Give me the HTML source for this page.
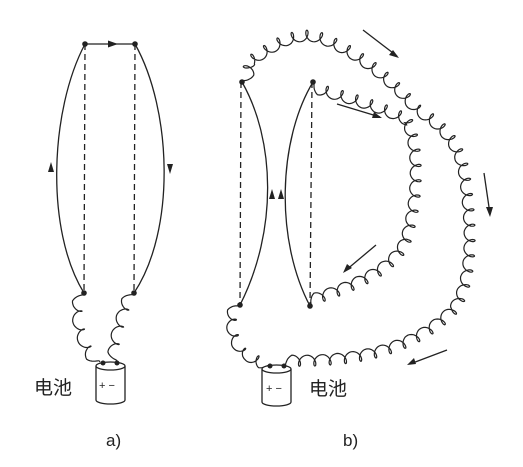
<!DOCTYPE html>
<html><head><meta charset="utf-8"><style>
html,body{margin:0;padding:0;background:#fff;width:523px;height:467px;overflow:hidden}
text{font-family:"Liberation Sans","Noto Sans CJK SC",sans-serif;fill:#222}
</style></head><body>
<svg id="s" width="523" height="467" viewBox="0 0 523 467" xmlns="http://www.w3.org/2000/svg">
<g fill="none" stroke="#222" stroke-width="1.3">
<path d="M85,44 C50,110 45,230 84,293"/>
<path d="M135,44 C172,110 176,230 134,293"/>
<line x1="85" y1="44" x2="135" y2="44"/>
<line x1="85" y1="44" x2="84" y2="293" stroke-dasharray="6,4"/>
<line x1="135" y1="44" x2="134" y2="293" stroke-dasharray="6,4"/>
<path d="M242,82 C275,140 278,230 240,305"/>
<path d="M313,82 C278,140 275,240 310,306"/>
<line x1="241" y1="82" x2="240" y2="305" stroke-dasharray="6,4"/>
<line x1="312" y1="82" x2="310" y2="306" stroke-dasharray="6,4"/>
<line x1="363" y1="30" x2="397" y2="56"/>
<line x1="337" y1="104" x2="380" y2="117"/>
<line x1="376" y1="245" x2="345" y2="271"/>
<line x1="484" y1="173" x2="490" y2="214"/>
<line x1="447" y1="350" x2="410" y2="364"/>
</g>
<g fill="#222">
<polygon points="118,44 108,40.5 108,47.5"/>
<polygon points="51,162 48,172 54,172"/>
<polygon points="170,174 167,164 173,164"/>
<polygon points="272,189 269,199 275,199"/>
<polygon points="281,189 278,199 284,199"/>
<polygon points="399,58 389,55 393,50"/>
<polygon points="382,118 372,118 374,112"/>
<polygon points="343,273 347,264 352,268"/>
<polygon points="490,217 486,207 493,207"/>
<polygon points="407,365 414,358 416,364"/>
<circle cx="85" cy="44" r="2.8"/><circle cx="135" cy="44" r="2.8"/>
<circle cx="84" cy="293" r="2.8"/><circle cx="134" cy="293" r="2.8"/>
<circle cx="242" cy="82" r="2.8"/><circle cx="313" cy="82" r="2.8"/>
<circle cx="240" cy="305" r="2.8"/><circle cx="310" cy="306" r="2.8"/>
</g>
<g id="coils" fill="none" stroke="#222" stroke-width="1.2"></g>
<g fill="#fff" stroke="#222" stroke-width="1.3">
<path d="M96,366 L96,400 A14.5,4 0 0 0 125,400 L125,366"/>
<ellipse cx="110.5" cy="366" rx="14.5" ry="4"/>
<path d="M262,369 L262,402 A14.5,4 0 0 0 291,402 L291,369"/>
<ellipse cx="276.5" cy="369" rx="14.5" ry="4"/>
</g>
<g fill="#222"><circle cx="103" cy="363" r="2.5"/><circle cx="117" cy="363" r="2.5"/>
<circle cx="270" cy="366" r="2.5"/><circle cx="284" cy="366" r="2.5"/></g>
<text x="99" y="389" font-size="11">+ −</text>
<text x="266" y="392" font-size="11">+ −</text>
<text x="34" y="394" font-size="19">电池</text>
<text x="309" y="395" font-size="19">电池</text>
<text x="106" y="446" font-size="17" font-family="Liberation Serif">a)</text>
<text x="343" y="446" font-size="17" font-family="Liberation Serif">b)</text>
</svg>
<script>
(function(){
var NS="http://www.w3.org/2000/svg",g=document.getElementById("coils"),svg=document.getElementById("s");
function coil(d,pitch,r){
 var p=document.createElementNS(NS,"path");p.setAttribute("d",d);svg.appendChild(p);
 var L=p.getTotalLength(),n=Math.max(1,Math.round(L/pitch)),steps=n*24,pts=[];
 for(var i=0;i<=steps;i++){
  var s=L*i/steps,th=2*Math.PI*n*i/steps;
  var a=p.getPointAtLength(Math.max(0,s-0.5)),b=p.getPointAtLength(Math.min(L,s+0.5)),c=p.getPointAtLength(s);
  var tx=b.x-a.x,ty=b.y-a.y,m=Math.hypot(tx,ty)||1;tx/=m;ty/=m;var nx=-ty,ny=tx;
  var env=Math.min(1,i/12,(steps-i)/12);
  var x=c.x+env*r*(-Math.sin(th)*tx*0.75+(1-Math.cos(th))*nx);
  var y=c.y+env*r*(-Math.sin(th)*ty*0.75+(1-Math.cos(th))*ny);
  pts.push(x.toFixed(1)+","+y.toFixed(1));
 }
 svg.removeChild(p);
 var q=document.createElementNS(NS,"path");q.setAttribute("d","M"+pts.join(" L"));g.appendChild(q);
}
coil("M84,293 C78,320 86,340 100,362",18,5);
coil("M134,293 C126,320 118,340 117,362",18,5);
coil("M242,82 C244,70 242,62 246,58 C270,40 295,25 320,32 C360,45 400,80 420,105 C445,120 465,140 470,175 C478,230 478,280 460,310 C430,345 380,362 330,365 C310,367 295,366 284,366",15.5,5.5);
coil("M313,82 C340,90 380,100 410,115 C425,140 425,200 410,245 C395,275 360,290 310,306",15.5,5.5);
coil("M240,305 C232,320 238,345 250,352 C262,356 268,362 270,366",16,5);
})();
</script>
</body></html>
